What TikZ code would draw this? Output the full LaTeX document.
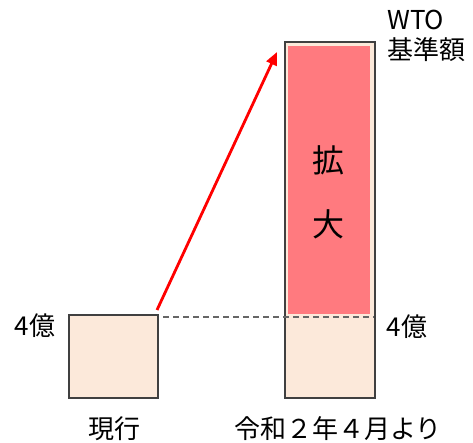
\documentclass[tikz,border=0pt]{standalone}
\usepackage{fontspec}
\setmainfont{Noto Sans CJK JP}
\usetikzlibrary{arrows.meta}
\definecolor{beige}{RGB}{252,233,218}
\definecolor{pinkbar}{RGB}{255,122,127}
\definecolor{edge}{RGB}{64,64,64}
\begin{document}
\begin{tikzpicture}[x=1pt,y=1pt,
  bar/.style={draw=edge,line width=1.8pt,fill=beige,inner sep=0pt,anchor=south west},
  lbl/.style={inner sep=0pt,font=\fontsize{26}{29}\selectfont},
  big/.style={inner sep=0pt,font=\fontsize{32}{36}\selectfont}]
\useasboundingbox (0,0) rectangle (473,443);
\node[bar,minimum width=89pt,minimum height=83pt] (cur) at (68,44) {};
\node[bar,minimum width=90pt,minimum height=356pt] (new) at (284,44) {};
\node[fill=pinkbar,inner sep=0pt,anchor=south west,minimum width=82pt,minimum height=268pt] (grow) at (288,129) {};
\coordinate (dstart) at (163,126);
\coordinate (dend) at (374,126);
\draw[edge!80,dash pattern=on 6pt off 4pt,line width=1.8pt] (dstart) -- (dend);
\coordinate (astart) at (157,133);
\coordinate (tip) at (277,391);
\draw[red,line width=2.8pt,-{Triangle[length=13pt,width=11pt]}] (astart) -- (tip);
\node[big] (k1) at (328,283) {拡};
\node[big] (k2) at (328,219) {大};
\node[lbl] (l4) at (35,117) {4億};
\node[lbl] (r4) at (407,116) {4億};
\node[lbl,anchor=west] (wto) at (387,423) {WTO};
\node[lbl,anchor=west] (kijun) at (387,393) {基準額};
\node[lbl] (genko) at (114,14) {現行};
\node[lbl] (reiwa) at (338,14) {令和２年４月より};
\end{tikzpicture}
\end{document}
